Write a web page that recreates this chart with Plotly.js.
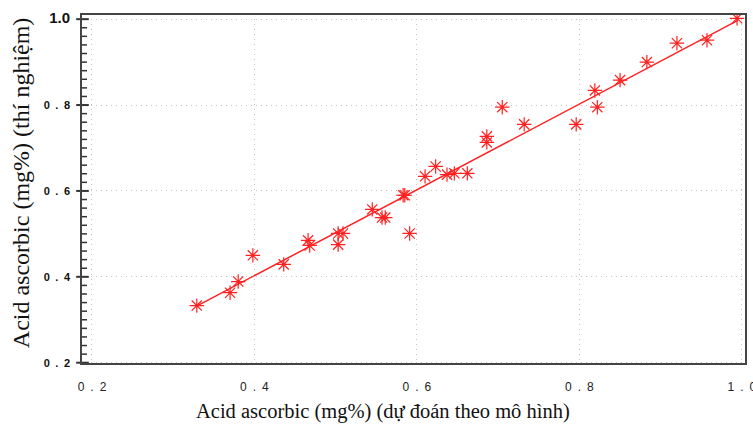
<!DOCTYPE html>
<html>
<head>
<meta charset="utf-8">
<script src="https://cdn.plot.ly/plotly-3.0.1.min.js"></script>
<style>html,body{margin:0;padding:0;background:#fff;}#chart{width:753px;height:425px;}</style>
</head>
<body>
<div id="chart"></div>
<script>
// Predicted (model) vs experimental ascorbic acid values
const predicted = [0.329, 0.370, 0.380, 0.398, 0.436, 0.466, 0.468, 0.503, 0.509, 0.503,
  0.545, 0.557, 0.561, 0.583, 0.585, 0.591, 0.610, 0.623, 0.637, 0.646, 0.662,
  0.686, 0.686, 0.705, 0.732, 0.796, 0.819, 0.822, 0.850, 0.883, 0.920, 0.957, 0.994];
const experimental = [0.333, 0.363, 0.389, 0.450, 0.429, 0.485, 0.473, 0.501, 0.501, 0.475,
  0.557, 0.538, 0.538, 0.590, 0.590, 0.501, 0.634, 0.657, 0.638, 0.641, 0.641,
  0.727, 0.713, 0.795, 0.755, 0.755, 0.834, 0.795, 0.858, 0.900, 0.944, 0.951, 1.002];
const fitX = [0.33, 0.995];
const fitY = [0.333, 0.997];
const tickVals = [0.2, 0.4, 0.6, 0.8, 1.0];
const xTickText = ['0 . 2', '0 . 4', '0 . 6', '0 . 8', '1 . 0'];
const yTickText = ['0 . 2', '0 . 4', '0 . 6', '0 . 8', '1.0'];
const xTitle = 'Acid ascorbic (mg%) (dự đoán theo mô hình)';
const yTitle = 'Acid ascorbic (mg%) (thí nghiệm)';

const sp = s => s.replace(/ /g, '\u2002');

const xRange = [0.1865, 1.005];
const yRange = [0.197, 1.012];
const plotW = 753 - 81 - 7, plotH = 425 - 14 - 61;

// Axis tick decorations: majors at tickVals, minors every 0.02
const minorVals = [];
for (let i = 0; i <= 40; i++) {
  const v = +(0.2 + i * 0.02).toFixed(2);
  if (!tickVals.some(t => Math.abs(t - v) < 1e-9)) minorVals.push(v);
}
const tickMark = (sym, size, w) => ({symbol: sym, size: size, color: '#333', line: {color: '#333', width: w}});

const traces = [
  {x: fitX, y: fitY, mode: 'lines', line: {color: '#ff2020', width: 1.5}, hoverinfo: 'skip'},
  {x: predicted, y: experimental, mode: 'markers',
   marker: {symbol: 'asterisk-open', size: 12, color: '#ff2020', line: {color: '#ff2020', width: 1.2}}},
  // x-axis ticks (below the axis line)
  {x: tickVals, y: tickVals.map(() => -5 / plotH), xaxis: 'x', yaxis: 'y3', mode: 'markers',
   cliponaxis: false, hoverinfo: 'skip', marker: tickMark('line-ns-open', 8, 2)},
  {x: minorVals, y: minorVals.map(() => -6 / plotH), xaxis: 'x', yaxis: 'y3', mode: 'markers',
   cliponaxis: false, hoverinfo: 'skip', marker: tickMark('line-ns-open', 4, 1.5)},
  // y-axis ticks (crossing / inside the axis line)
  {x: tickVals.map(() => 1.5 / plotW), y: tickVals, xaxis: 'x3', yaxis: 'y', mode: 'markers',
   cliponaxis: false, hoverinfo: 'skip', marker: tickMark('line-ew-open', 9, 2)},
  {x: minorVals.map(() => 2.5 / plotW), y: minorVals, xaxis: 'x3', yaxis: 'y', mode: 'markers',
   cliponaxis: false, hoverinfo: 'skip', marker: tickMark('line-ew-open', 5, 1.5)}
];

const axisCommon = {
  tickmode: 'array', tickvals: tickVals,
  showline: false, ticks: '',
  showgrid: true, gridcolor: '#c4c4c4', griddash: '1px,4px', gridwidth: 1,
  zeroline: false, ticklabeloverflow: 'allow'
};

const yLabels = yTickText.map((t, i) => i === yTickText.length - 1
  ? '<span style="font-size:15px">' + t + '</span>' : sp(t));

const layout = {
  width: 753, height: 425,
  margin: {l: 81, r: 7, t: 14, b: 61},
  paper_bgcolor: '#fff', plot_bgcolor: '#fff',
  showlegend: false,
  xaxis: Object.assign({}, axisCommon, {
    range: xRange, ticktext: xTickText.map(sp),
    tickfont: {family: 'Liberation Sans, Arial, sans-serif', size: 12, color: '#222'},
    ticklabelstandoff: 14
  }),
  yaxis: Object.assign({}, axisCommon, {
    range: yRange, ticktext: yLabels,
    tickfont: {family: 'Liberation Sans, Arial, sans-serif', size: 11, color: '#111', weight: 'bold'},
    ticklabelstandoff: 10
  }),
  xaxis3: {overlaying: 'x', range: [0, 1], visible: false},
  yaxis3: {overlaying: 'y', range: [0, 1], visible: false},
  shapes: [
    {type: 'rect', xref: 'paper', yref: 'paper', x0: 0, x1: 1, y0: 0, y1: 1,
     line: {color: '#444', width: 2}, fillcolor: 'rgba(0,0,0,0)', layer: 'above'}
  ],
  annotations: [
    {text: xTitle, xref: 'paper', yref: 'paper', x: 0.454, y: -0.137, xanchor: 'center', yanchor: 'middle',
     showarrow: false, font: {family: 'Liberation Serif, Times New Roman, serif', size: 20.5, color: '#111'}},
    {text: yTitle, xref: 'paper', yref: 'paper', x: -0.09, y: 0.517, xanchor: 'center', yanchor: 'middle',
     textangle: -90, showarrow: false, font: {family: 'Liberation Serif, Times New Roman, serif', size: 24, color: '#111'}}
  ]
};

Plotly.newPlot('chart', traces, layout, {displayModeBar: false, staticPlot: true});
</script>
</body>
</html>
